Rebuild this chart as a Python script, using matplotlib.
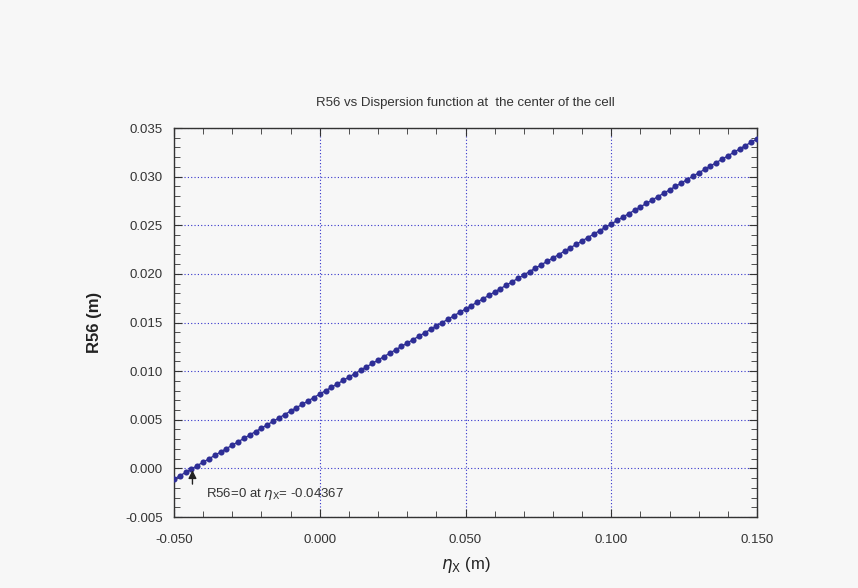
import matplotlib
matplotlib.use('Agg')
import matplotlib.pyplot as plt
from matplotlib.ticker import MultipleLocator, FormatStrFormatter

plt.rcParams['font.family'] = ['Liberation Sans', 'DejaVu Sans']

# dispersion at the cell centre (m)
eta_x = [
    -0.050, -0.048, -0.046, -0.044, -0.042, -0.040, -0.038, -0.036, -0.034, -0.032,
    -0.030, -0.028, -0.026, -0.024, -0.022, -0.020, -0.018, -0.016, -0.014, -0.012,
    -0.010, -0.008, -0.006, -0.004, -0.002, 0.000, 0.002, 0.004, 0.006, 0.008,
    0.010, 0.012, 0.014, 0.016, 0.018, 0.020, 0.022, 0.024, 0.026, 0.028,
    0.030, 0.032, 0.034, 0.036, 0.038, 0.040, 0.042, 0.044, 0.046, 0.048,
    0.050, 0.052, 0.054, 0.056, 0.058, 0.060, 0.062, 0.064, 0.066, 0.068,
    0.070, 0.072, 0.074, 0.076, 0.078, 0.080, 0.082, 0.084, 0.086, 0.088,
    0.090, 0.092, 0.094, 0.096, 0.098, 0.100, 0.102, 0.104, 0.106, 0.108,
    0.110, 0.112, 0.114, 0.116, 0.118, 0.120, 0.122, 0.124, 0.126, 0.128,
    0.130, 0.132, 0.134, 0.136, 0.138, 0.140, 0.142, 0.144, 0.146, 0.148,
    0.150,
]

# R56 (m)
r56 = [
    -0.00111, -0.00076, -0.00041, -0.00006, 0.00029, 0.00064, 0.00099, 0.00134, 0.00169, 0.00204,
    0.00239, 0.00274, 0.00309, 0.00344, 0.00379, 0.00414, 0.00449, 0.00484, 0.00519, 0.00554,
    0.00589, 0.00624, 0.00659, 0.00694, 0.00729, 0.00764, 0.00799, 0.00834, 0.00869, 0.00904,
    0.00939, 0.00974, 0.01009, 0.01044, 0.01079, 0.01114, 0.01149, 0.01184, 0.01219, 0.01254,
    0.01289, 0.01324, 0.01359, 0.01394, 0.01429, 0.01464, 0.01499, 0.01534, 0.01569, 0.01604,
    0.01639, 0.01674, 0.01709, 0.01744, 0.01779, 0.01814, 0.01849, 0.01884, 0.01919, 0.01954,
    0.01989, 0.02024, 0.02059, 0.02094, 0.02129, 0.02164, 0.02199, 0.02234, 0.02269, 0.02304,
    0.02339, 0.02374, 0.02409, 0.02444, 0.02479, 0.02514, 0.02549, 0.02584, 0.02619, 0.02654,
    0.02689, 0.02724, 0.02759, 0.02794, 0.02829, 0.02864, 0.02899, 0.02934, 0.02969, 0.03004,
    0.03039, 0.03074, 0.03109, 0.03144, 0.03179, 0.03214, 0.03249, 0.03284, 0.03319, 0.03354,
    0.03389,
]

eta_zero = -0.04367

fig = plt.figure(figsize=(8.58, 5.88), dpi=100, facecolor='#f7f7f7')
ax = fig.add_axes([0.2028, 0.1207, 0.6795, 0.6616])
ax.set_facecolor('#f7f7f7')

ax.plot(eta_x, r56, '-o', color='#2e2e96', markersize=4.4, linewidth=1.0,
        markeredgewidth=0, zorder=3)

ax.set_xlim(-0.05, 0.15)
ax.set_ylim(-0.005, 0.035)
ax.xaxis.set_major_locator(MultipleLocator(0.05))
ax.xaxis.set_minor_locator(MultipleLocator(0.01))
ax.yaxis.set_major_locator(MultipleLocator(0.005))
ax.yaxis.set_minor_locator(MultipleLocator(0.001))
ax.xaxis.set_major_formatter(FormatStrFormatter('%.3f'))
ax.yaxis.set_major_formatter(FormatStrFormatter('%.3f'))

ax.grid(True, which='major', color='#3333cc', linestyle=(0, (1, 2)), linewidth=0.8)
ax.tick_params(which='both', direction='in', top=True, right=True,
               colors='#333333', labelsize=9.5, labelcolor='#333333')
ax.tick_params(which='major', length=6)
ax.tick_params(axis='x', which='major', pad=12)
ax.tick_params(axis='y', which='major', pad=8)
ax.tick_params(which='minor', length=4)
for s in ax.spines.values():
    s.set_color('#333333')
    s.set_linewidth(1.0)

ax.set_title('R56 vs Dispersion function at  the center of the cell',
             fontsize=9.5, color='#333333', pad=16)
ax.set_ylabel('R56 (m)', fontsize=12, fontweight='bold', labelpad=17, color='#222222')
ax.set_xlabel(r'$\eta_{\mathrm{X}}$ (m)', fontsize=12, labelpad=7, color='#222222')

ax.annotate('', xy=(eta_zero, 0.0001), xytext=(eta_zero, -0.0019),
            arrowprops=dict(arrowstyle='-|>', color='#222222', lw=1.0,
                            mutation_scale=12))
ax.text(-0.0390, -0.0026, r'R56=0 at $\eta_{\mathrm{X}}$= -0.04367',
        fontsize=9.5, color='#333333', va='center')

fig.savefig('out.png', dpi=100, facecolor=fig.get_facecolor())
